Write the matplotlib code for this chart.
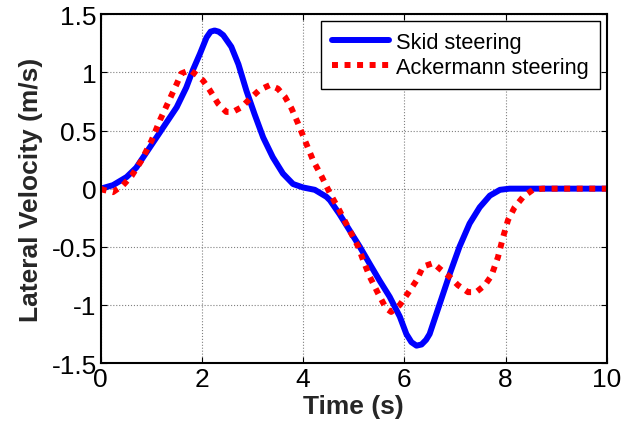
import matplotlib.pyplot as plt

# Skid steering (readings)
t_skid = [0, 0.24, 0.51, 0.70, 0.90, 1.10, 1.30, 1.50, 1.69, 1.82, 1.96, 2.09, 2.17, 2.25, 2.33,
          2.42, 2.58, 2.72, 2.88, 3.04, 3.21, 3.40, 3.60, 3.80, 4.00, 4.23, 4.46, 4.53, 4.72,
          4.92, 5.12, 5.32, 5.51, 5.71, 5.91, 6.04, 6.14, 6.24, 6.34, 6.43, 6.50, 6.70, 6.90,
          7.09, 7.29, 7.49, 7.69, 7.89, 8.08, 9.0, 10.0]
v_skid = [0, 0.03, 0.10, 0.18, 0.31, 0.44, 0.57, 0.70, 0.87, 1.02, 1.16, 1.30, 1.35, 1.36, 1.35,
          1.32, 1.22, 1.07, 0.84, 0.64, 0.44, 0.27, 0.13, 0.04, 0.01, -0.01, -0.07, -0.10, -0.22,
          -0.36, -0.50, -0.65, -0.79, -0.93, -1.10, -1.25, -1.32, -1.35, -1.34, -1.30, -1.25, -0.99, -0.73,
          -0.50, -0.30, -0.16, -0.06, -0.01, 0, 0, 0]

# Ackermann steering
t_ack = [0, 0.05, 0.24, 0.44, 0.61, 0.80, 1.00, 1.17, 1.33, 1.50, 1.59, 1.76, 1.92, 2.02, 2.15,
         2.32, 2.48, 2.61, 2.78, 2.94, 3.14, 3.34, 3.50, 3.64, 3.77, 3.90, 4.03, 4.20, 4.36,
         4.53, 4.72, 4.92, 5.09, 5.19, 5.32, 5.48, 5.64, 5.74, 5.91, 6.07, 6.24, 6.37, 6.57,
         6.73, 6.90, 7.06, 7.26, 7.42, 7.59, 7.72, 7.85, 7.95, 8.05, 8.18, 8.35, 8.54, 8.74,
         9.0, 10.0]
v_ack = [0, -0.01, -0.03, 0.03, 0.11, 0.24, 0.41, 0.59, 0.74, 0.90, 0.99, 1.02, 0.97, 0.93, 0.85,
         0.73, 0.66, 0.66, 0.70, 0.77, 0.85, 0.89, 0.86, 0.79, 0.69, 0.56, 0.42, 0.24, 0.11,
         -0.04, -0.19, -0.36, -0.50, -0.62, -0.76, -0.90, -1.03, -1.06, -1.00, -0.90, -0.79, -0.67, -0.64,
         -0.70, -0.76, -0.83, -0.89, -0.89, -0.83, -0.75, -0.59, -0.42, -0.27, -0.16, -0.07, -0.01, 0,
         0, 0]

x_ticks = [0, 2, 4, 6, 8, 10]
y_ticks = [-1.5, -1, -0.5, 0, 0.5, 1, 1.5]
y_labels = ['-1.5', '-1', '-0.5', '0', '0.5', '1', '1.5']

plt.rcParams['font.family'] = ['Liberation Sans', 'DejaVu Sans']

fig = plt.figure(figsize=(6.3, 4.35), dpi=100)
ax = fig.add_axes([0.160, 0.163, 0.803, 0.802])

ax.plot(t_skid, v_skid, color='blue', linewidth=4.3, label='Skid steering',
        solid_joinstyle='round', solid_capstyle='round')
ax.plot(t_ack, v_ack, color='red', linewidth=4.3, linestyle=(0, (1, 1.1)),
        label='Ackermann steering')

ax.set_xlim(0, 10)
ax.set_ylim(-1.5, 1.5)
ax.set_xticks(x_ticks)
ax.set_xticklabels([str(v) for v in x_ticks])
ax.set_yticks(y_ticks)
ax.set_yticklabels(y_labels)
ax.tick_params(direction='in', top=True, right=True, labelsize=19, length=4, pad=3)
ax.grid(True, color='gray', linestyle=':', linewidth=0.8)
for s in ax.spines.values():
    s.set_linewidth(1.5)

ax.set_xlabel('Time (s)', fontsize=19, fontweight='bold', color='#262626', labelpad=2)
ax.set_ylabel('Lateral Velocity (m/s)', fontsize=19, fontweight='bold', color='#262626', labelpad=6)

leg = ax.legend(loc='upper right', fontsize=15.7, fancybox=False, framealpha=1,
                edgecolor='black', handlelength=2.6, handletextpad=0.35, borderpad=0.5,
                labelspacing=0.2, borderaxespad=0.3)
leg.get_frame().set_linewidth(1.0)

fig.savefig('out.png', dpi=100)
